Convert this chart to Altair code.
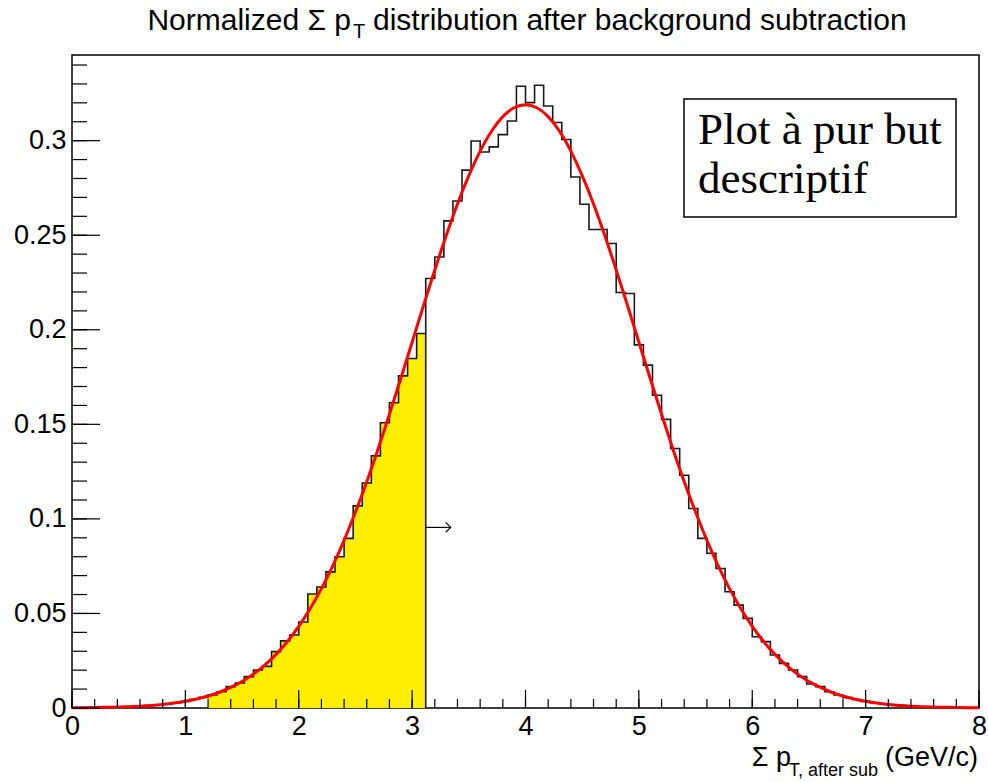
import altair as alt
import pandas as pd

# ---------------- data ----------------
n_bins = 100
bin_width = 0.08          # 100 bins between 0 and 8
hist_values = [
    0.0001, 0.0002, 0.0002, 0.0003, 0.0004, 0.0006, 0.0008, 0.0010, 0.0013, 0.0017,
    0.0022, 0.0028, 0.0035, 0.0046, 0.0056, 0.0069, 0.0086, 0.0113, 0.0132, 0.0166,
    0.0201, 0.0220, 0.0298, 0.0355, 0.0386, 0.0455, 0.0603, 0.0640, 0.0720, 0.0800,
    0.0897, 0.1069, 0.1190, 0.1333, 0.1508, 0.1614, 0.1756, 0.1848, 0.1980, 0.2271,
    0.2385, 0.2576, 0.2681, 0.2844, 0.2998, 0.2940, 0.2967, 0.3032, 0.3104, 0.3288,
    0.3201, 0.3293, 0.3183, 0.3096, 0.3006, 0.2808, 0.2664, 0.2530, 0.2530, 0.2456,
    0.2197, 0.2192, 0.1920, 0.1813, 0.1654, 0.1526, 0.1372, 0.1231, 0.1055, 0.0897,
    0.0818, 0.0738, 0.0615, 0.0544, 0.0474, 0.0377, 0.0351, 0.0280, 0.0236, 0.0201,
    0.0166, 0.0127, 0.0113, 0.0086, 0.0069, 0.0055, 0.0045, 0.0035, 0.0028, 0.0022,
    0.0016, 0.0013, 0.0010, 0.0007, 0.0006, 0.0004, 0.0003, 0.0002, 0.0002, 0.0001,
]
yellow_first_bin = 15     # 1.20
yellow_last_bin = 38      # up to 3.12

curve_step = 0.1
curve_values = [
    0.0001, 0.00016, 0.00023, 0.00034, 0.00049, 0.0007, 0.00099, 0.00138, 0.00191, 0.00261,
    0.00354, 0.00476, 0.00633, 0.00833, 0.01086, 0.01402, 0.01791, 0.02265, 0.02837, 0.03518,
    0.04317, 0.05247, 0.06313, 0.07519, 0.08868, 0.1036, 0.1197, 0.1370, 0.1553, 0.1742,
    0.1935, 0.2128, 0.2316, 0.2497, 0.2665, 0.2815, 0.2945, 0.3050, 0.3127, 0.3174,
    0.3190,
    0.3174, 0.3127, 0.3050, 0.2945, 0.2815, 0.2665, 0.2497, 0.2316, 0.2128, 0.1935,
    0.1742, 0.1553, 0.1370, 0.1197, 0.1036, 0.08868, 0.07519, 0.06313, 0.05247, 0.04317,
    0.03518, 0.02837, 0.02265, 0.01791, 0.01402, 0.01086, 0.00833, 0.00633, 0.00476, 0.00354,
    0.00261, 0.00191, 0.00138, 0.00099, 0.0007, 0.00049, 0.00034, 0.00023, 0.00016, 0.0001,
]

x_major = [0, 1, 2, 3, 4, 5, 6, 7, 8]
x_minor = [i / 5 for i in range(41)]
y_major = [0, 0.05, 0.1, 0.15, 0.2, 0.25, 0.3]
y_minor = [i / 100 for i in range(35)]
x_domain = [0, 8]
y_domain = [0, 0.3453]

arrow_x = [3.12, 3.34]
arrow_y = 0.0955

title_left = "Normalized \u03a3 p"
title_sub = "T"
title_right = "distribution after background subtraction"
xtitle_main = "\u03a3 p"
xtitle_sub = "T, after sub"
xtitle_unit = "(GeV/c)"
box_lines = ["Plot \u00e0 pur but", "descriptif"]

# ---------------- layout ----------------
W, H = 907, 653
PAD = {"left": 72, "top": 55, "right": 9, "bottom": 74}
SANS = "Liberation Sans"
SERIF = "Liberation Serif"

edges = [round(i * bin_width, 4) for i in range(n_bins + 1)]
hist_df = pd.DataFrame({"x": edges, "y": hist_values + [hist_values[-1]]})
ysel = hist_values[yellow_first_bin:yellow_last_bin + 1]
yellow_df = pd.DataFrame({
    "x": edges[yellow_first_bin:yellow_last_bin + 2],
    "y": ysel + [ysel[-1]],
})
cut_df = pd.DataFrame({"x": [edges[yellow_last_bin + 1]],
                       "y": [hist_values[yellow_last_bin]], "y0": [0.0]})
curve_df = pd.DataFrame({"x": [round(i * curve_step, 2) for i in range(len(curve_values))],
                         "y": curve_values})
arrow_df = pd.DataFrame({"x": [arrow_x[0]], "x2": [arrow_x[1]], "y": [arrow_y]})
arrow_head_df = pd.DataFrame({"x": [arrow_x[1]], "y": [arrow_y]})

xs = alt.Scale(domain=x_domain, nice=False, zero=False)
ys = alt.Scale(domain=y_domain, nice=False, zero=False)
xaxis = alt.Axis(values=x_major, format="d", domain=False, ticks=False, grid=False,
                 labelFont=SANS, labelFontSize=27, labelColor="black", labelPadding=5,
                 labelFlush=False, labelOverlap=False)
yaxis = alt.Axis(values=y_major, format="~g", domain=False, ticks=False, grid=False,
                 labelFont=SANS, labelFontSize=27, labelColor="black", labelPadding=6,
                 labelFlush=False, labelOverlap=False)


def X(field):
    return alt.X(field, scale=xs, axis=xaxis, title=None)


def Y(field):
    return alt.Y(field, scale=ys, axis=yaxis, title=None)


yellow = alt.Chart(yellow_df).mark_area(interpolate="step-after", color="#ffee00",
                                         opacity=1).encode(
    x=X("x:Q"), y=Y("y:Q"), y2=alt.datum(0))

hist = alt.Chart(hist_df).mark_line(interpolate="step-after", color="#1a1a1a",
                                     strokeWidth=1.6).encode(x=X("x:Q"), y=Y("y:Q"))

cut = alt.Chart(cut_df).mark_rule(color="#1a1a1a", strokeWidth=1.6).encode(
    x=X("x:Q"), y=Y("y:Q"), y2="y0:Q")

curve = alt.Chart(curve_df).mark_line(interpolate="monotone", color="#ff0000",
                                       strokeWidth=3).encode(x=X("x:Q"), y=Y("y:Q"))

arrow = alt.Chart(arrow_df).mark_rule(color="black", strokeWidth=1.2).encode(
    x=X("x:Q"), x2="x2:Q", y=Y("y:Q"))
arrow_head = alt.Chart(arrow_head_df).mark_point(
    shape="M-1,-1L0,0L-1,1", filled=False, color="black", strokeWidth=1.2, size=100,
    opacity=1).encode(x=X("x:Q"), y=Y("y:Q"))


def yticks(vals, length):
    return alt.Chart(pd.DataFrame({"v": vals})).mark_rule(
        color="black", strokeWidth=1.2).encode(
        y=Y("v:Q"), x=alt.value(0), x2=alt.value(length))


def xticks(vals, length):
    return alt.Chart(pd.DataFrame({"v": vals})).mark_rule(
        color="black", strokeWidth=1.2).encode(
        x=X("v:Q"), y=alt.value(H), y2=alt.value(H - length))


def label(text, x, y, size, align="left", font=SANS):
    return alt.Chart(pd.DataFrame({"t": [text]})).mark_text(
        align=align, baseline="alphabetic", font=font, fontSize=size,
        color="black").encode(x=alt.value(x), y=alt.value(y), text="t:N")


box = alt.Chart(pd.DataFrame({"a": [0]})).mark_rect(
    fill="white", stroke="black", strokeWidth=1.5).encode(
    x=alt.value(612), x2=alt.value(884), y=alt.value(44), y2=alt.value(162))

layers = [
    yellow, hist, cut, curve, arrow, arrow_head,
    yticks(y_minor, 15), yticks(y_major, 28),
    xticks(x_minor, 9), xticks(x_major, 18),
    label(title_left, 279, -25, 30, align="right"),
    label(title_sub, 281, -17, 20),
    label(title_right, 301, -25, 30),
    label(xtitle_unit, 906, 711, 27, align="right"),
    label(xtitle_sub, 806, 721, 18, align="right"),
    label(xtitle_main, 719, 711, 27, align="right"),
    box,
    label(box_lines[0], 626, 89, 45, font=SERIF),
    label(box_lines[1], 626, 138, 45, font=SERIF),
]

chart = alt.layer(*layers).properties(
    width=W, height=H, padding=PAD,
    autosize=alt.AutoSizeParams(type="none"),
    background="white",
).configure_view(stroke="black", strokeWidth=1.5)

chart.save("out.html", embed_options={"renderer": "svg", "actions": False})
